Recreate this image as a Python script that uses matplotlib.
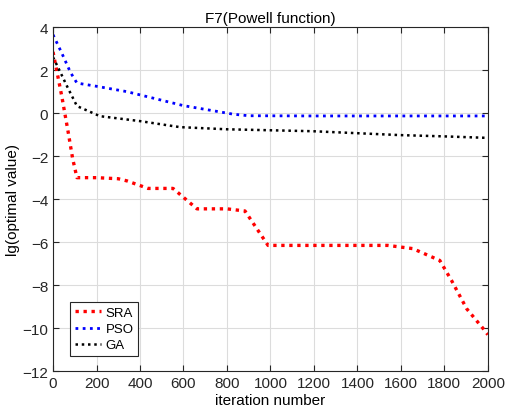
import matplotlib
matplotlib.use("Agg")
import matplotlib.pyplot as plt

plt.rcParams['font.family'] = ['Liberation Sans', 'DejaVu Sans']

# convergence curves
sra_iter = [0, 40, 70, 90, 110, 200, 300, 340, 437, 552, 662, 800, 883, 989, 1200, 1540, 1655, 1779, 1834, 1903, 1977, 2000]
sra_val = [2.85, 0.8, -0.9, -2.1, -3.0, -3.0, -3.05, -3.15, -3.5, -3.5, -4.45, -4.45, -4.55, -6.15, -6.15, -6.15, -6.3, -6.85, -7.8, -9.1, -10.0, -10.3]

pso_iter = [0, 40, 80, 110, 200, 340, 600, 830, 900, 1200, 2000]
pso_val = [3.65, 2.8, 1.9, 1.4, 1.25, 1.0, 0.35, -0.05, -0.12, -0.13, -0.13]

ga_iter = [0, 23, 64, 110, 216, 400, 584, 800, 1195, 1595, 1800, 2000]
ga_val = [2.6, 2.13, 1.26, 0.33, -0.14, -0.37, -0.65, -0.75, -0.84, -1.02, -1.08, -1.15]

fig = plt.figure(figsize=(5.05, 4.14), dpi=100)
ax = fig.add_axes([0.105, 0.101, 0.861, 0.831])

ax.plot(sra_iter, sra_val, color='red', linestyle=(0, (1, 1.4)), linewidth=2.4, label='SRA')
ax.plot(pso_iter, pso_val, color='blue', linestyle=(0, (1, 1.6)), linewidth=2.0, label='PSO')
ax.plot(ga_iter, ga_val, color='black', linestyle=(0, (1, 1.5)), linewidth=1.8, label='GA')

ax.set_xlim(0, 2000)
ax.set_ylim(-12, 4)
ax.set_xticks(range(0, 2001, 200))
ax.set_yticks(range(-12, 5, 2))
ax.grid(True, color='#dcdcdc', linewidth=0.8)
ax.set_axisbelow(True)
ax.tick_params(direction='in', top=True, right=True, labelsize=11, colors='#262626', length=4)
for s in ax.spines.values():
    s.set_color('#262626')
    s.set_linewidth(0.8)

ax.set_title('F7(Powell function)', fontsize=11, pad=4)
ax.set_xlabel('iteration number', fontsize=11, labelpad=2)
ax.set_ylabel('lg(optimal value)', fontsize=11, labelpad=2)

leg = ax.legend(loc='lower left', bbox_to_anchor=(0.025, 0.025), fontsize=9.5, fancybox=False,
                edgecolor='#262626', framealpha=1, handlelength=2.0, handletextpad=0.3,
                labelspacing=0.3, borderpad=0.35)
leg.get_frame().set_linewidth(0.8)

fig.savefig('out.png', dpi=100)
